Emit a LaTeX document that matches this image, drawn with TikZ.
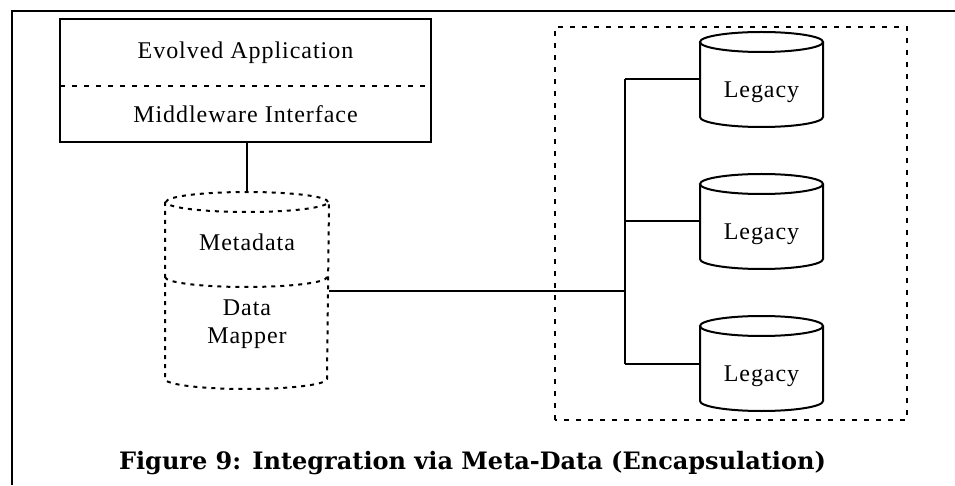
\documentclass[tikz,border=0pt]{standalone}
\usepackage{fontspec}
\setmainfont[LetterSpace=4]{Liberation Serif}
\newfontfamily\capfont{DejaVu Serif}
\usepackage{tikz}
\usetikzlibrary{
  calc,
  positioning
}

% outline of a data store round a named node: [style]{node}{x radius}{y radius}
\newcommand{\dbdraw}[4][]{%
  \draw[#1] ($(#2.north)+(0,-#4)$) ellipse[x radius = #3pt, y radius = #4pt];
  \draw[#1] ($(#2.north west)+(0,-#4)$) -- ($(#2.south west)+(0,#4)$)
    arc[start angle = 180, end angle = 360, x radius = #3pt, y radius = #4pt]
    -- ($(#2.north east)+(0,-#4)$);
}

\tikzset{
  dots/.style = {dash pattern = on 5pt off 7pt},
  fine dots/.style = {dash pattern = on 4pt off 5pt},
  legacy/.style = {minimum width = 123pt, minimum height = 95pt, inner sep = 0pt, outer sep = 0pt}
}

\begin{document}
\begin{tikzpicture}[x = 1pt, y = 1pt, line width = 2pt, node distance = 47pt,
    font = \fontsize{24pt}{28pt}\selectfont]
    \useasboundingbox (0,0) rectangle (955,485);
    \draw[line width = 2.5pt] (12,0) -- (12,474) -- (955,474);

    \node[minimum width = 369pt, minimum height = 65pt, inner sep = 0pt] (app) at (245.5,432.5) {Evolved Application};
    \node[minimum width = 369pt, minimum height = 54pt, inner sep = 0pt, below = 0pt of app] (mw) {Middleware Interface};
    \draw (app.north west) rectangle (mw.south east);
    \draw[dots] (app.south west) -- (app.south east);

    \node[minimum width = 162pt, minimum height = 195pt, inner sep = 0pt] (meta) at (247,194.5) {};
    \dbdraw[fine dots]{meta}{81}{10}
    \draw[fine dots] ($(meta.west)+(0,13.5)$) arc[start angle = 180, end angle = 360, x radius = 81pt, y radius = 10pt];
    \node (metatext) at ($(meta.center)+(0,48.5)$) {Metadata};
    \node[align = center] (mappertext) at ($(meta.center)+(0,-33.5)$) {Data\\Mapper};

    \node[legacy] (l1) at (761.5,405.5) {};
    \node[legacy, below = of l1] (l2) {};
    \node[legacy, below = of l2] (l3) {};
    \draw[dots] (555,65) rectangle (907,458);

    \coordinate (bus) at (625,0);
    \draw (meta.north) -- (meta.north |- mw.south);
    \draw (meta.east) -- (meta.east -| bus);
    \draw (l1.west -| bus) -- (l3.west -| bus);
    \foreach \i in {1,2,3} {
      \dbdraw{l\i}{61.5}{10}
      \node (l\i text) at ($(l\i.center)+(0,-13)$) {Legacy};
      \draw (l\i.west) -- (l\i.west -| bus);
    }

    \node[font = \capfont\bfseries\fontsize{24pt}{28pt}\selectfont] (caption) at (472.5,22) {Figure 9: Integration via Meta-Data (Encapsulation)};
  \end{tikzpicture}
\end{document}
